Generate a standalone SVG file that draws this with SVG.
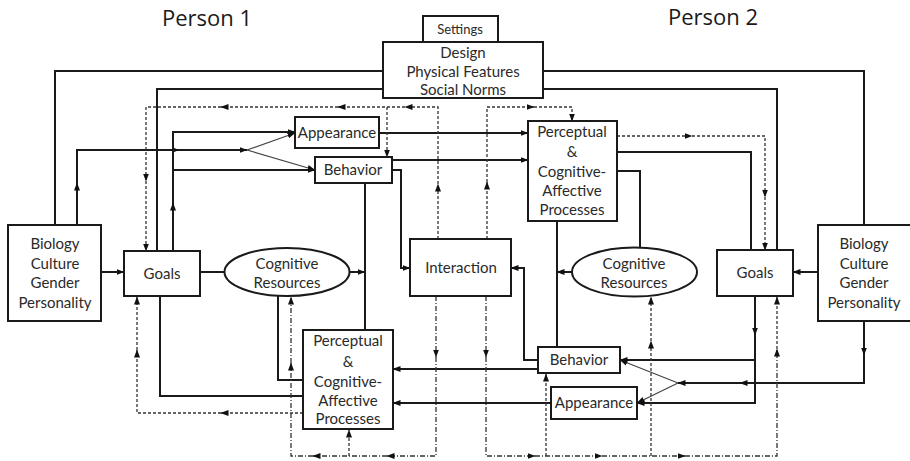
<svg xmlns="http://www.w3.org/2000/svg" width="910" height="461" viewBox="0 0 910 461">
  <style>
    .box { fill: #fff; stroke: #1a1a1a; stroke-width: 2; }
    .t { font-family: Lato, "Open Sans", "Liberation Sans", sans-serif; font-size: 15px; fill: #2a2a2a; text-anchor: middle; }
    .ts { font-size: 13px; }
    .title { font-family: "Open Sans", Lato, "Liberation Sans", sans-serif; font-size: 22px; fill: #1a1a1a; text-anchor: middle; }
    .ln { fill: none; stroke: #1a1a1a; stroke-width: 2; }
    .thin { fill: none; stroke: #444; stroke-width: 1.2; }
    .dash { fill: none; stroke: #333; stroke-width: 1.3; stroke-dasharray: 3 2; }
    .dd { fill: none; stroke: #333; stroke-width: 1.3; stroke-dasharray: 5 2 1 2; }
  </style>
  <defs>
    <marker id="ah" viewBox="0 0 8 8" refX="7.5" refY="4" markerWidth="8" markerHeight="8" orient="auto" markerUnits="userSpaceOnUse">
      <path d="M0,1 L8,4 L0,7 z" fill="#111"/>
    </marker>
  </defs>

  <rect width="910" height="461" fill="#fff"/>

  <text class="title" x="207" y="26">Person 1</text>
  <text class="title" x="713" y="25">Person 2</text>

  <!-- connectors -->
  <g id="connectors">
    <!-- solid links -->
    <path class="ln" d="M55,225 V71 H383"/>
    <path class="ln" d="M157,251 V89 H383"/>
    <path class="ln" d="M543,71 H864 V225"/>
    <path class="ln" d="M543,89 H777 V250"/>
    <path class="ln" d="M101,272 H124" marker-end="url(#ah)"/>
    <path class="ln" d="M818,272 H793" marker-end="url(#ah)"/>

    <path class="ln" d="M77,225 V183" marker-end="url(#ah)"/>
    <path class="ln" d="M77,183 V150 H179" marker-end="url(#ah)"/>
    <path class="ln" d="M179,150 H247" marker-end="url(#ah)"/>
    <path class="thin" d="M247,150 L295,133" marker-end="url(#ah)"/>
    <path class="thin" d="M247,150 L315,170" marker-end="url(#ah)"/>

    <path class="ln" d="M173,251 V203" marker-end="url(#ah)"/>
    <path class="ln" d="M173,203 V132 H295" marker-end="url(#ah)"/>
    <path class="ln" d="M173,170 H315" marker-end="url(#ah)"/>

    <path class="ln" d="M200,272 H224"/>
    <path class="ln" d="M349,272 H365" marker-end="url(#ah)"/>
    <path class="ln" d="M365,183 V330"/>
    <path class="ln" d="M392,170 H401 V268 H410" marker-end="url(#ah)"/>
    <path class="ln" d="M379,133 H528" marker-end="url(#ah)"/>
    <path class="ln" d="M392,160 H528" marker-end="url(#ah)"/>
    <path class="ln" d="M160,296 V396 H303"/>
    <path class="ln" d="M278,296 V380 H303"/>

    <path class="ln" d="M557,221 V347"/>
    <path class="ln" d="M572,272 H557" marker-end="url(#ah)"/>
    <path class="ln" d="M617,152 H751 V250"/>
    <path class="ln" d="M617,171 H640 V248"/>
    <path class="ln" d="M538,360 H524 V268 H511" marker-end="url(#ah)"/>
    <path class="ln" d="M538,369 H393" marker-end="url(#ah)"/>
    <path class="ln" d="M551,403 H393" marker-end="url(#ah)"/>

    <path class="ln" d="M755,296 V335" marker-end="url(#ah)"/>
    <path class="ln" d="M755,335 V403 H637" marker-end="url(#ah)"/>
    <path class="ln" d="M755,360 H620" marker-end="url(#ah)"/>

    <path class="ln" d="M864,320 V355" marker-end="url(#ah)"/>
    <path class="ln" d="M864,355 V383 H740" marker-end="url(#ah)"/>
    <path class="ln" d="M740,383 H678" marker-end="url(#ah)"/>
    <path class="thin" d="M678,383 L620,360" marker-end="url(#ah)"/>
    <path class="thin" d="M678,383 L637,403" marker-end="url(#ah)"/>

    <!-- dashed feedback links -->
    <path class="dash" d="M438,239 V184" marker-end="url(#ah)"/>
    <path class="dash" d="M438,184 V107 H405" marker-end="url(#ah)"/>
    <path class="dash" d="M405,107 H338" marker-end="url(#ah)"/>
    <path class="dash" d="M338,107 H221" marker-end="url(#ah)"/>
    <path class="dash" d="M221,107 H146 V181" marker-end="url(#ah)"/>
    <path class="dash" d="M146,181 V251" marker-end="url(#ah)"/>
    <path class="dash" d="M387,107 V157" marker-end="url(#ah)"/>

    <path class="dash" d="M487,239 V182" marker-end="url(#ah)"/>
    <path class="dash" d="M487,182 V107 H534" marker-end="url(#ah)"/>
    <path class="dash" d="M534,107 H572 V121" marker-end="url(#ah)"/>

    <path class="dash" d="M617,136 H692" marker-end="url(#ah)"/>
    <path class="dash" d="M692,136 H765 V197" marker-end="url(#ah)"/>
    <path class="dash" d="M765,197 V250" marker-end="url(#ah)"/>

    <path class="dd" d="M436,296 V357" marker-end="url(#ah)"/>
    <path class="dd" d="M436,357 V456 H387" marker-end="url(#ah)"/>
    <path class="dd" d="M387,456 H313" marker-end="url(#ah)"/>
    <path class="dd" d="M313,456 H291 V363" marker-end="url(#ah)"/>
    <path class="dd" d="M291,363 V297" marker-end="url(#ah)"/>
    <path class="dash" d="M349,456 V430" marker-end="url(#ah)"/>

    <path class="dd" d="M486,296 V357" marker-end="url(#ah)"/>
    <path class="dd" d="M486,357 V456 H535" marker-end="url(#ah)"/>
    <path class="dd" d="M535,456 H602" marker-end="url(#ah)"/>
    <path class="dd" d="M602,456 H685" marker-end="url(#ah)"/>
    <path class="dd" d="M685,456 H777 V349" marker-end="url(#ah)"/>
    <path class="dash" d="M777,349 V297" marker-end="url(#ah)"/>
    <path class="dash" d="M546,456 V374" marker-end="url(#ah)"/>
    <path class="dash" d="M651,456 V341" marker-end="url(#ah)"/>
    <path class="dash" d="M651,341 V297" marker-end="url(#ah)"/>

    <path class="dash" d="M303,413 H221" marker-end="url(#ah)"/>
    <path class="dash" d="M221,413 H137 V350" marker-end="url(#ah)"/>
    <path class="dash" d="M137,350 V297" marker-end="url(#ah)"/>
  </g>

  <!-- shared setting -->
  <g id="settings">
    <rect class="box" x="423" y="16" width="75" height="26"/>
    <text class="t ts" x="460" y="34">Settings</text>
  </g>
  <g id="setting-features">
    <rect class="box" x="383" y="42" width="160" height="56"/>
    <text class="t" x="463" y="58">Design</text>
    <text class="t" x="463" y="77">Physical Features</text>
    <text class="t" x="463" y="95">Social Norms</text>
  </g>

  <!-- person 1 -->
  <g id="p1-traits">
    <rect class="box" x="8" y="225" width="93" height="96"/>
    <text class="t" x="55" y="249">Biology</text>
    <text class="t" x="55" y="269">Culture</text>
    <text class="t" x="55" y="288">Gender</text>
    <text class="t" x="55" y="308">Personality</text>
  </g>
  <g id="p1-goals">
    <rect class="box" x="124" y="251" width="76" height="45"/>
    <text class="t" x="162" y="279">Goals</text>
  </g>
  <g id="p1-resources">
    <ellipse class="box" cx="287" cy="272" rx="62.5" ry="24"/>
    <text class="t" x="287" y="269">Cognitive</text>
    <text class="t" x="287" y="288">Resources</text>
  </g>
  <g id="p1-appearance">
    <rect class="box" x="295" y="117" width="84" height="31"/>
    <text class="t" x="337" y="138">Appearance</text>
  </g>
  <g id="p1-behavior">
    <rect class="box" x="315" y="157" width="77" height="26"/>
    <text class="t" x="353" y="175">Behavior</text>
  </g>
  <g id="p1-processes">
    <rect class="box" x="303" y="330" width="90" height="99"/>
    <text class="t" x="348" y="346">Perceptual</text>
    <text class="t" x="348" y="367">&amp;</text>
    <text class="t" x="348" y="387">Cognitive-</text>
    <text class="t" x="348" y="406">Affective</text>
    <text class="t" x="348" y="424">Processes</text>
  </g>

  <!-- interaction -->
  <g id="interaction">
    <rect class="box" x="410" y="239" width="101" height="57"/>
    <text class="t" x="461" y="273">Interaction</text>
  </g>

  <!-- person 2 -->
  <g id="p2-processes">
    <rect class="box" x="528" y="121" width="89" height="100"/>
    <text class="t" x="572" y="137">Perceptual</text>
    <text class="t" x="572" y="157">&amp;</text>
    <text class="t" x="572" y="177">Cognitive-</text>
    <text class="t" x="572" y="196">Affective</text>
    <text class="t" x="572" y="215">Processes</text>
  </g>
  <g id="p2-resources">
    <ellipse class="box" cx="634.5" cy="272" rx="62.5" ry="24.5"/>
    <text class="t" x="634" y="269">Cognitive</text>
    <text class="t" x="634" y="288">Resources</text>
  </g>
  <g id="p2-goals">
    <rect class="box" x="717" y="250" width="76" height="46"/>
    <text class="t" x="755" y="278">Goals</text>
  </g>
  <g id="p2-traits">
    <rect class="box" x="818" y="225" width="96" height="96"/>
    <text class="t" x="864" y="249">Biology</text>
    <text class="t" x="864" y="269">Culture</text>
    <text class="t" x="864" y="288">Gender</text>
    <text class="t" x="864" y="308">Personality</text>
  </g>
  <g id="p2-behavior">
    <rect class="box" x="538" y="347" width="82" height="26"/>
    <text class="t" x="579" y="365">Behavior</text>
  </g>
  <g id="p2-appearance">
    <rect class="box" x="551" y="387" width="86" height="32"/>
    <text class="t" x="594" y="408">Appearance</text>
  </g>
</svg>
